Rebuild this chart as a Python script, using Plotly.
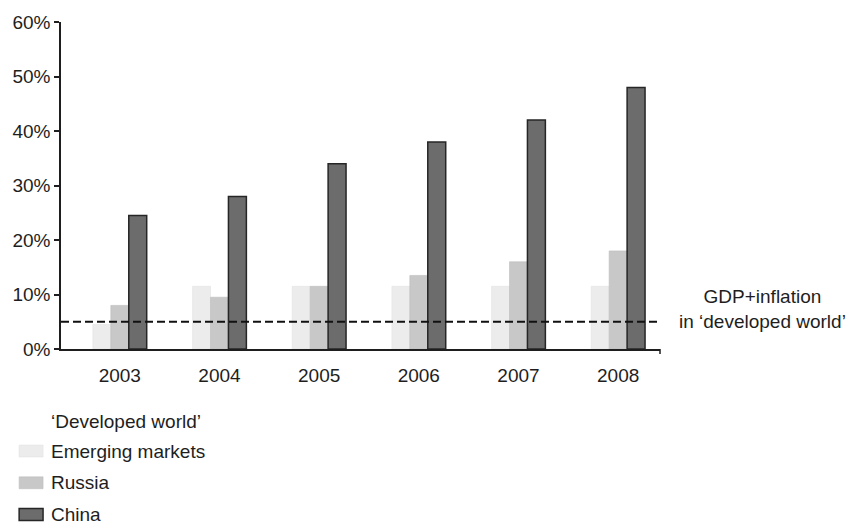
import plotly.graph_objects as go

# ---- data -------------------------------------------------------------
years = ["2003", "2004", "2005", "2006", "2007", "2008"]
emerging_markets = [4.5, 11.5, 11.5, 11.5, 11.5, 11.5]
russia = [8.0, 9.5, 11.5, 13.5, 16.0, 18.0]
china = [24.5, 28.0, 34.0, 38.0, 42.0, 48.0]
developed_benchmark = 5.0          # GDP+inflation in the developed world
y_ticks = [0, 10, 20, 30, 40, 50, 60]
y_tick_text = [f"{v}%" for v in y_ticks]
legend_names = ["\u2018Developed world\u2019", "Emerging markets", "Russia", "China"]
benchmark_label = "GDP+inflation<br>in \u2018developed world\u2019"

# ---- styling ----------------------------------------------------------
FONT = "Liberation Sans, Arial, Helvetica, sans-serif"
FS = 19
INK = "#1e1e1e"
fills = ["#ffffff", "#ececec", "#c8c8c8", "#6c6c6c"]
edges = ["#ffffff", "#e2e2e2", "#bdbdbd", "#262626"]
edge_w = [0, 0.6, 0.6, 1.5]

W_PX, H_PX = 864, 526
L, R, T, B = 59, 204, 19, 177
PW, PH = W_PX - L - R, H_PX - T - B


def px_x(px):
    return (px - L) / PW


def px_y(py):
    return (H_PX - B - py) / PH


fig = go.Figure()

series = [emerging_markets, russia, china]
for i, vals in enumerate(series, start=1):
    fig.add_trace(go.Bar(
        x=years, y=vals, name=legend_names[i],
        marker=dict(color=fills[i], line=dict(color=edges[i], width=edge_w[i])),
        showlegend=False, hoverinfo="x+y+name",
    ))

# benchmark dashed line across the plot
fig.add_shape(type="line", xref="paper", yref="y",
              x0=0, x1=px_x(657), y0=developed_benchmark, y1=developed_benchmark,
              line=dict(color="#111111", width=2, dash="8px,4px"), layer="above")

fig.add_annotation(text=benchmark_label, xref="paper", yref="paper",
                   x=px_x(763), y=px_y(309), showarrow=False,
                   xanchor="center", yanchor="middle", align="center",
                   font=dict(family=FONT, size=FS, color=INK))

# small closing tick at the right end of the category axis
fig.add_shape(type="line", xref="paper", yref="paper",
              x0=1, x1=1, y0=0, y1=px_y(354),
              line=dict(color=INK, width=1.5))

# legend built from swatches and labels below the chart
legend_rows = [422, 452, 484, 516]
for name, fill, edge, ew, cy in zip(legend_names, fills, edges, edge_w, legend_rows):
    fig.add_shape(type="rect", xref="paper", yref="paper",
                  x0=px_x(17), x1=px_x(41), y0=px_y(cy + 6), y1=px_y(cy - 6),
                  fillcolor=fill, line=dict(color=edge, width=ew))
    fig.add_annotation(text=name, xref="paper", yref="paper",
                       x=px_x(47), y=px_y(cy), showarrow=False,
                       xanchor="left", yanchor="middle",
                       font=dict(family=FONT, size=FS, color=INK))

fig.update_layout(
    width=W_PX, height=H_PX,
    margin=dict(l=L, r=R, t=T, b=B, pad=0),
    paper_bgcolor="white", plot_bgcolor="white",
    barmode="group", bargap=0.46, bargroupgap=0,
    font=dict(family=FONT, size=FS, color=INK),
    showlegend=False,
)
fig.update_xaxes(
    type="category", range=[-0.59, 5.42],
    showline=True, linecolor=INK, linewidth=1.5,
    ticks="", showgrid=False, zeroline=False,
    ticklabelstandoff=8,
    tickfont=dict(family=FONT, size=FS, color=INK),
)
fig.update_yaxes(
    range=[0, 60], tickmode="array", tickvals=y_ticks, ticktext=y_tick_text,
    showline=True, linecolor=INK, linewidth=1.5,
    ticks="outside", ticklen=5, tickwidth=1.5, tickcolor=INK,
    showgrid=False, zeroline=False,
    tickfont=dict(family=FONT, size=FS, color=INK),
)

fig.write_html("out.html")
